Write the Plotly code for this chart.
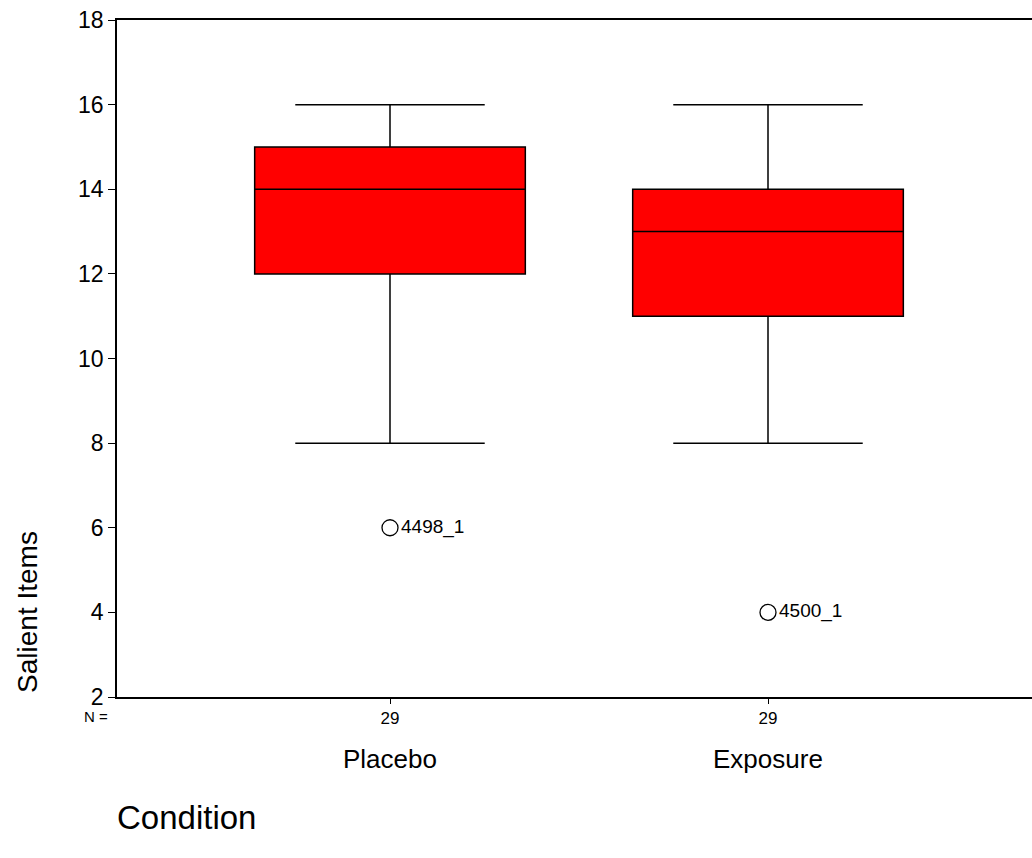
import plotly.graph_objects as go

categories = ["Placebo", "Exposure"]
n_counts = [29, 29]
q1 = [12, 11]
median = [14, 13]
q3 = [15, 14]
lower_whisker = [8, 8]
upper_whisker = [16, 16]
outlier_values = [6, 4]
outlier_labels = ["4498_1", "4500_1"]
y_ticks = [2, 4, 6, 8, 10, 12, 14, 16, 18]

FONT = "Liberation Sans, Arial, sans-serif"
xpos = list(range(len(categories)))

fig = go.Figure()
for i, cat in enumerate(categories):
    fig.add_trace(go.Box(
        x=[xpos[i]], q1=[q1[i]], median=[median[i]], q3=[q3[i]],
        lowerfence=[lower_whisker[i]], upperfence=[upper_whisker[i]],
        width=0.716, whiskerwidth=0.70,
        fillcolor="#ff0000", line=dict(color="black", width=1.5),
        boxpoints=False, name=cat, showlegend=False, hoverinfo="skip",
    ))

fig.add_trace(go.Scatter(
    x=xpos, y=outlier_values, mode="markers+text",
    marker=dict(symbol="circle-open", size=16, color="black", line=dict(width=1.3)),
    text=outlier_labels, textposition="middle right",
    textfont=dict(family=FONT, size=19, color="black"),
    showlegend=False, hoverinfo="skip",
))

for i, cat in enumerate(categories):
    fig.add_annotation(x=xpos[i], y=-0.0916, xref="x", yref="paper", text=cat,
                       showarrow=False, font=dict(family=FONT, size=26, color="black"),
                       xanchor="center", yanchor="middle")

fig.add_annotation(x=-0.0077, y=-0.0295, xref="paper", yref="paper", text="N =",
                   showarrow=False, font=dict(family=FONT, size=15, color="black"),
                   xanchor="right", yanchor="middle")
fig.add_annotation(x=-0.002, y=-0.1787, xref="paper", yref="paper", text="Condition",
                   showarrow=False, font=dict(family=FONT, size=33, color="black"),
                   xanchor="left", yanchor="middle")
fig.add_annotation(x=-0.0973, y=0.003, xref="paper", yref="paper", text="Salient Items",
                   textangle=-90, showarrow=False,
                   font=dict(family=FONT, size=28, color="black"),
                   xanchor="center", yanchor="bottom")

fig.update_layout(
    width=1032, height=858,
    margin=dict(l=117, r=0, t=20, b=161),
    paper_bgcolor="white", plot_bgcolor="white",
    font=dict(family=FONT, color="black"),
    xaxis=dict(
        range=[-0.7222, 1.6984], tickvals=xpos, ticktext=[str(n) for n in n_counts],
        showgrid=False, zeroline=False, showline=True, linecolor="black", linewidth=1.5,
        mirror=True, ticks="outside", ticklen=5, tickcolor="black",
        tickfont=dict(family=FONT, size=17, color="black"),
    ),
    yaxis=dict(
        range=[2, 18], tickvals=y_ticks, showgrid=False, zeroline=False,
        showline=True, linecolor="black", linewidth=1.5, ticks="outside", ticklen=7,
        tickcolor="black", tickfont=dict(family=FONT, size=23, color="black"),
    ),
)
fig.write_html(
    "out.html",
    config={"displayModeBar": False},
    post_script="document.body.style.margin='0';document.body.style.overflow='hidden';",
)
